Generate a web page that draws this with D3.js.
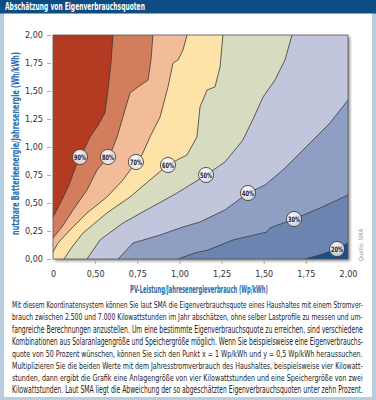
<!DOCTYPE html>
<html>
<head>
<meta charset="utf-8">
<script src="https://cdn.jsdelivr.net/npm/d3@7"></script>
<style>
  body { margin: 0; background: #fff; }
  svg { display: block; }
</style>
</head>
<body>
<svg id="chart" width="376" height="400"></svg>
<script>
// values

const xTicks = [0.25, 0.5, 0.75, 1, 1.25, 1.5, 1.75, 2];
const xTickLabels = ["0", "0,50", "0,75", "1,00", "1,25", "1,50", "1,75", "2,00"];
const yTicks = [0, 0.25, 0.5, 0.75, 1, 1.25, 1.5, 1.75, 2];
const yTickLabels = ["0,00", "0,25", "0,50", "0,75", "1,00", "1,25", "1,50", "1,75", "2,00"];

const levels = [90, 80, 70, 60, 50, 40, 30, 20];
const bandColors = ['#b23b22', '#d27d5c', '#f3bc98', '#fde3a7', '#d7dcc1',
                    '#c2c6dd', '#8e9fc3', '#6c85b0', '#1a4d8c'];

// iso lines [x, y] (Wp/kWh, Wh/kWh)
const line90 = [[0.606, 2], [0.594, 1.75], [0.576, 1.509], [0.558, 1.304], [0.511, 1.179],
  [0.469, 1.089], [0.428, 0.955], [0.386, 0.83], [0.345, 0.661], [0.303, 0.527], [0.25, 0.375]];
const line80 = [[0.843, 2], [0.831, 1.777], [0.814, 1.598], [0.754, 1.536], [0.707, 1.482],
  [0.677, 1.33], [0.63, 1.089], [0.588, 0.929], [0.511, 0.795], [0.452, 0.616],
  [0.369, 0.438], [0.303, 0.286], [0.25, 0.188]];
const line70 = [[1.045, 2], [1.021, 1.866], [0.992, 1.777], [0.962, 1.75], [0.932, 1.536],
  [0.885, 1.268], [0.825, 1.089], [0.778, 0.929], [0.742, 0.866], [0.665, 0.705],
  [0.57, 0.554], [0.452, 0.411], [0.351, 0.259], [0.28, 0.143], [0.25, 0.063]];
const line60 = [[1.258, 2], [1.241, 1.714], [1.211, 1.536], [1.164, 1.509], [1.122, 1.357],
  [1.104, 1.089], [1.045, 0.929], [0.986, 0.884], [0.932, 0.839], [0.825, 0.705],
  [0.707, 0.554], [0.57, 0.411], [0.428, 0.232], [0.363, 0.107], [0.315, 0]];
const line50 = [[1.668, 2], [1.626, 1.777], [1.567, 1.598], [1.496, 1.446], [1.448, 1.286],
  [1.377, 1.063], [1.27, 0.866], [1.158, 0.75], [0.986, 0.589], [0.825, 0.455],
  [0.665, 0.321], [0.529, 0.17], [0.452, 0]];
const line40 = [[2, 1.42], [1.893, 1.214], [1.775, 1.036], [1.614, 0.795], [1.508, 0.661],
  [1.407, 0.589], [1.27, 0.438], [1.122, 0.33], [1.021, 0.286], [0.885, 0.214],
  [0.725, 0.143], [0.636, 0]];
const line30 = [[2, 0.571], [1.834, 0.455], [1.68, 0.357], [1.537, 0.277], [1.519, 0.241],
  [1.318, 0.17], [1.17, 0.08], [1.092, 0.054], [0.991, 0]];
const line20 = [[2, 0.143], [1.935, 0.089], [1.834, 0.036], [1.745, 0]];

const labelX = [0.41, 0.576, 0.742, 0.932, 1.158, 1.407, 1.68, 1.935];
const labelY = [0.911, 0.911, 0.866, 0.839, 0.75, 0.589, 0.357, 0.089];

const paragraph = [
  "Mit diesem Koordinatensystem können Sie laut SMA die Eigenverbrauchsquote eines Haushaltes mit einem Stromver-",
  "brauch zwischen 2.500 und 7.000 Kilowattstunden im Jahr abschätzen, ohne selber Lastprofile zu messen und um-",
  "fangreiche Berechnungen anzustellen. Um eine bestimmte Eigenverbrauchsquote zu erreichen, sind verschiedene",
  "Kombinationen aus Solaranlagengröße und Speichergröße möglich. Wenn Sie beispielsweise eine Eigenverbrauchs-",
  "quote von 50 Prozent wünschen, können Sie sich den Punkt x = 1 Wp/kWh und y = 0,5 Wp/kWh heraussuchen.",
  "Multiplizieren Sie die beiden Werte mit dem Jahresstromverbrauch des Haushaltes, beispielsweise vier Kilowatt-",
  "stunden, dann ergibt die Grafik eine Anlagengröße von vier Kilowattstunden und eine Speichergröße von zwei",
  "Kilowattstunden. Laut SMA liegt die Abweichung der so abgeschätzten Eigenverbrauchsquoten unter zehn Prozent."
];

const FONT = "'Liberation Sans Narrow', 'DejaVu Sans Condensed', 'Liberation Sans', sans-serif";
const BLUE_TITLE = '#2b6cab';

const svg = d3.select("#chart");

// squeeze a text horizontally to a given width (condensed look)
function squeeze(sel, width, place) {
    sel.each(function(d, i) {
        const n = this.getComputedTextLength();
        const k = Math.min(1, width / n);
        this.setAttribute("transform", `${place(d, i)} scale(${k},1)`);
    });
}

// frame + title bar
svg.append("rect").attr("width", 376).attr("height", 400).attr("fill", "#b7cde0");
svg.append("rect").attr("x", 4).attr("y", 13).attr("width", 368).attr("height", 384).attr("fill", "#fff");
svg.append("rect").attr("width", 376).attr("height", 13.5).attr("fill", "#0e4c84");
svg.append("text")
    .style("font", `bold 11px ${FONT}`)
    .attr("fill", "#fff")
    .text("Abschätzung von Eigenverbrauchsquoten")
    .call(squeeze, 140, () => "translate(5,10.2)");

const plot = {left: 53, right: 348, top: 35, bottom: 259};

const x = d3.scaleLinear().domain([0.25, 2]).range([plot.left, plot.right]);
const y = d3.scaleLinear().domain([0, 2]).range([plot.bottom, plot.top]);

const defs = svg.append("defs");
const shadow = defs.append("filter").attr("id", "shadow")
    .attr("x", "-5%").attr("y", "-5%").attr("width", "115%").attr("height", "115%");
shadow.append("feDropShadow")
    .attr("dx", 2).attr("dy", 2).attr("stdDeviation", 1.5)
    .attr("flood-color", "#000").attr("flood-opacity", 0.45);

const grad = defs.append("radialGradient").attr("id", "bubble")
    .attr("cx", "40%").attr("cy", "35%").attr("r", "70%");
grad.append("stop").attr("offset", "0%").attr("stop-color", "#fff").attr("stop-opacity", 0.95);
grad.append("stop").attr("offset", "100%").attr("stop-color", "#e6e6ea").attr("stop-opacity", 0.75);

// plot background (highest band) with shadow
svg.append("rect")
    .attr("x", plot.left).attr("y", plot.top)
    .attr("width", plot.right - plot.left).attr("height", plot.bottom - plot.top)
    .attr("fill", bandColors[0])
    .attr("filter", "url(#shadow)");

// position along the plot border, counter-clockwise from top-left
const [x0, x1] = x.domain();
const [y0, y1] = y.domain();
function perim([px, py]) {
    const e = 1e-6;
    if (Math.abs(px - x0) < e) return (y1 - py) / (y1 - y0);
    if (Math.abs(py - y0) < e) return 1 + (px - x0) / (x1 - x0);
    if (Math.abs(px - x1) < e) return 2 + (py - y0) / (y1 - y0);
    return 3 + (x1 - px) / (x1 - x0);
}
const corners = [{t: 1, p: [x0, y0]}, {t: 2, p: [x1, y0]}, {t: 3, p: [x1, y1]}];

const isoLines = [line90, line80, line70, line60, line50, line40, line30, line20];

const gBands = svg.append("g");
isoLines.forEach((ln, i) => {
    const ts = perim(ln[0]);
    const te = perim(ln[ln.length - 1]);
    const pts = ln.concat(corners.filter(c => c.t > te && c.t < ts).map(c => c.p));
    gBands.append("path")
        .attr("d", "M" + pts.map(p => [x(p[0]), y(p[1])].join(",")).join("L") + "Z")
        .attr("fill", bandColors[i + 1]);
});

const lineGen = d3.line().x(d => x(d[0])).y(d => y(d[1]));
svg.append("g")
    .attr("fill", "none")
    .attr("stroke", "#3a3a3a")
    .attr("stroke-width", 0.8)
    .selectAll("path")
    .data(isoLines)
    .join("path")
    .attr("d", lineGen);

// frame of the plot
svg.append("rect")
    .attr("x", plot.left).attr("y", plot.top)
    .attr("width", plot.right - plot.left).attr("height", plot.bottom - plot.top)
    .attr("fill", "none").attr("stroke", "#555").attr("stroke-width", 0.8);

// level bubbles
const bubbles = svg.append("g")
    .selectAll("g")
    .data(levels)
    .join("g")
    .attr("transform", (d, i) => `translate(${x(labelX[i])},${y(labelY[i])})`);
bubbles.append("circle")
    .attr("r", 7.6)
    .attr("fill", "url(#bubble)")
    .attr("stroke", "#333").attr("stroke-width", 0.8);
bubbles.append("text")
    .attr("text-anchor", "middle").attr("dy", "0.36em")
    .style("font", `bold 7.5px ${FONT}`)
    .attr("fill", "#222")
    .text(d => `${d}%`)
    .call(squeeze, 12, () => "");

// axes
const yAxis = svg.append("g")
    .attr("transform", `translate(${plot.left - 2},0)`)
    .call(d3.axisLeft(y).tickValues(yTicks).tickFormat((d, i) => yTickLabels[i])
        .tickSize(4).tickPadding(4));
const xAxis = svg.append("g")
    .attr("transform", `translate(0,${plot.bottom + 1})`)
    .call(d3.axisBottom(x).tickValues(xTicks).tickFormat((d, i) => xTickLabels[i])
        .tickSize(4).tickPadding(7));
[yAxis, xAxis].forEach(g => {
    g.select(".domain").remove();
    g.selectAll(".tick line").attr("stroke", "#aaa");
    g.selectAll(".tick text")
        .style("font", `9px ${FONT}`)
        .attr("fill", "#333");
});
xAxis.selectAll(".tick").filter(d => d === x0 || d === x1).select("line").remove();

svg.append("text")
    .attr("text-anchor", "middle").attr("dy", "0.35em")
    .style("font", `bold 10px ${FONT}`)
    .attr("fill", BLUE_TITLE)
    .text("nutzbare Batterieenergie/Jahresenergie (Wh/kWh)")
    .call(squeeze, 183, () => "translate(15,143.5) rotate(-90)");

svg.append("text")
    .attr("text-anchor", "middle")
    .style("font", `bold 10px ${FONT}`)
    .attr("fill", BLUE_TITLE)
    .text("PV-Leistung/Jahresenergieverbrauch (Wp/kWh)")
    .call(squeeze, 138, () => "translate(199,293)");

svg.append("text")
    .attr("transform", "translate(363,245) rotate(-90)")
    .attr("text-anchor", "middle")
    .style("font", `6px ${FONT}`)
    .attr("fill", "#999")
    .text("Quelle: SMA");

// caption, squeezed to the full column width
svg.append("g")
    .selectAll("text")
    .data(paragraph)
    .join("text")
    .style("font", `9.6px ${FONT}`)
    .attr("fill", "#222")
    .text(d => d)
    .call(squeeze, 351, (d, i) => `translate(12,${308.3 + i * 12.14})`);
</script>
</body>
</html>
